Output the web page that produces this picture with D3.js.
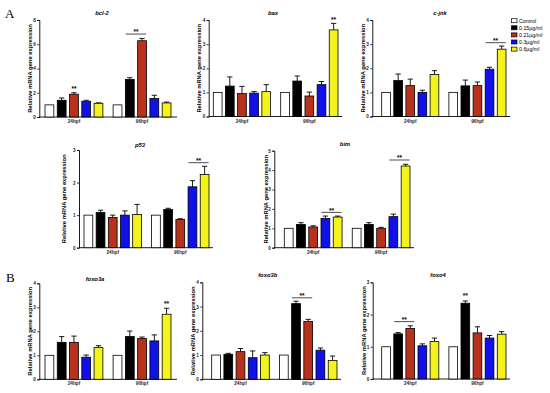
<!DOCTYPE html>
<html>
<head>
<meta charset="utf-8">
<script src="https://cdn.jsdelivr.net/npm/d3@7"></script>
<style>
  body { margin: 0; background: #fff; }
  svg { display: block; font-family: Arial, "Liberation Sans", sans-serif; }
</style>
</head>
<body>
<div id="chart"></div>
<script>
// ------------------------------- DATA ------------------------------------
var groups = ["24hpf", "96hpf"];
var doses = ["Control", "0.15µg/ml", "0.21µg/ml", "0.3µg/ml", "0.6µg/ml"];

// mean values: 5 doses at 24hpf, then 5 doses at 96hpf
var bcl2Mean   = [1.0, 1.38, 1.88, 1.30, 1.13,  1.0, 3.09, 6.29, 1.52, 1.16];
var bcl2Err    = [0,   0.19, 0.12, 0.08, 0.04,  0,   0.15, 0.19, 0.27, 0.07];
var baxMean    = [1.0, 1.26, 0.95, 0.97, 1.03,  1.0, 1.47, 0.85, 1.32, 3.59];
var baxErr     = [0,   0.38, 0.30, 0.07, 0.29,  0,   0.21, 0.16, 0.13, 0.27];
var cjnkMean   = [1.0, 1.49, 1.28, 1.00, 1.74,  1.0, 1.27, 1.28, 1.96, 2.79];
var cjnkErr    = [0,   0.27, 0.27, 0.09, 0.16,  0,   0.24, 0.15, 0.08, 0.13];
var p53Mean    = [1.0, 1.08, 0.93, 1.00, 1.02,  1.0, 1.17, 0.87, 1.87, 2.25];
var p53Err     = [0,   0.07, 0.07, 0.13, 0.31,  0,   0.04, 0.02, 0.19, 0.25];
var bimMean    = [1.0, 1.20, 1.07, 1.51, 1.58,  1.0, 1.20, 1.00, 1.60, 4.21];
var bimErr     = [0,   0.09, 0.06, 0.12, 0.05,  0,   0.09, 0.05, 0.13, 0.09];
var foxo3aMean = [1.0, 1.54, 1.54, 0.92, 1.32,  1.0, 1.78, 1.70, 1.60, 2.71];
var foxo3aErr  = [0,   0.24, 0.26, 0.09, 0.08,  0,   0.23, 0.06, 0.25, 0.25];
var foxo3bMean = [1.0, 1.03, 1.14, 0.89, 1.00,  1.0, 3.12, 2.38, 1.20, 0.78];
var foxo3bErr  = [0,   0.04, 0.13, 0.28, 0.10,  0,   0.10, 0.09, 0.09, 0.18];
var foxo4Mean  = [1.0, 1.40, 1.57, 1.03, 1.16,  1.0, 2.35, 1.43, 1.27, 1.39];
var foxo4Err   = [0,   0.04, 0.08, 0.06, 0.11,  0,   0.07, 0.19, 0.08, 0.08];

// significance: [group, fromDose, toDose, level]  (single bar when from == to)
var bcl2Sig   = [[0, 2, 2, 2.2], [1, 1, 2, 6.84]];
var baxSig    = [[1, 4, 4, 3.96]];
var cjnkSig   = [[1, 3, 4, 3.06]];
var p53Sig    = [[1, 3, 4, 2.61]];
var bimSig    = [[0, 3, 4, 1.82], [1, 3, 4, 4.52]];
var foxo3aSig = [[1, 4, 4, 3.08]];
var foxo3bSig = [[1, 1, 2, 3.36]];
var foxo4Sig  = [[0, 1, 2, 1.78], [1, 1, 1, 2.54]];

// ------------------------------- STYLE ------------------------------------
var colors = ["#ffffff", "#000000", "#b8311a", "#1010e8", "#f4f41c"];

var svg = d3.select("#chart").append("svg").attr("width", 550).attr("height", 393);

// panel layout (axis x, top, bottom, x-axis end, first/last bar edge, title pos, y-label x)
var panels = [
  {name: "bcl-2",  mean: bcl2Mean,   err: bcl2Err,   sig: bcl2Sig,   yMax: 8, yStep: 2,
   ax: 39.3,  top: 20,    bot: 117,   end: 177, x0: 45,    x1: 171, tx: 102,   ty: 15,    lx: 31.5},
  {name: "bax",    mean: baxMean,    err: baxErr,    sig: baxSig,    yMax: 4, yStep: 1,
   ax: 208.7, top: 20,    bot: 116.5, end: 342, x0: 213.3, x1: 338, tx: 273,   ty: 15,    lx: 201},
  {name: "c-jnk",  mean: cjnkMean,   err: cjnkErr,   sig: cjnkSig,   yMax: 4, yStep: 1,
   ax: 372.3, top: 20,    bot: 116.5, end: 510, x0: 381.7, x1: 506, tx: 440,   ty: 15,    lx: 365},
  {name: "p53",    mean: p53Mean,    err: p53Err,    sig: p53Sig,    yMax: 3, yStep: 1,
   ax: 79,    top: 150,   bot: 247.7, end: 213, x0: 84,    x1: 209, tx: 140,   ty: 147,   lx: 66},
  {name: "bim",    mean: bimMean,    err: bimErr,    sig: bimSig,    yMax: 5, yStep: 1,
   ax: 274.3, top: 150.7, bot: 247.7, end: 414, x0: 284.3, x1: 410, tx: 345,   ty: 145.5, lx: 268},
  {name: "foxo3a", mean: foxo3aMean, err: foxo3aErr, sig: foxo3aSig, yMax: 4, yStep: 1,
   ax: 39.3,  top: 283.3, bot: 379.3, end: 177, x0: 45,    x1: 171, tx: 95,    ty: 280.5, lx: 31.5},
  {name: "foxo3b", mean: foxo3bMean, err: foxo3bErr, sig: foxo3bSig, yMax: 4, yStep: 1,
   ax: 202.3, top: 282.3, bot: 379.3, end: 341, x0: 211.7, x1: 337, tx: 267.7, ty: 277,   lx: 195},
  {name: "foxo4",  mean: foxo4Mean,  err: foxo4Err,  sig: foxo4Sig,  yMax: 3, yStep: 1,
   ax: 372.7, top: 282.3, bot: 379,   end: 510, x0: 381.7, x1: 506, tx: 438,   ty: 276.5, lx: 366}
];

// panel letters
svg.append("text").attr("x", 5).attr("y", 18).text("A")
  .style("font-family", "'Liberation Serif', 'DejaVu Serif', serif").style("font-size", "13px");
svg.append("text").attr("x", 6).attr("y", 281.5).text("B")
  .style("font-family", "'Liberation Serif', 'DejaVu Serif', serif").style("font-size", "13px");

panels.forEach(drawPanel);
drawLegend(511.5, 20.7);

function drawPanel(p) {
  var g = svg.append("g").attr("class", p.name);

  var y = d3.scaleLinear().domain([0, p.yMax]).range([p.bot, p.top]);
  var xg = d3.scaleBand().domain(groups).range([p.x0, p.x1]).paddingInner(0.15);
  var xd = d3.scaleBand().domain(doses).range([0, xg.bandwidth()]).paddingInner(0.28);

  var rows = [];
  groups.forEach(function(gr, gi) {
    doses.forEach(function(ds, di) {
      rows.push({group: gr, dose: ds, di: di, v: p.mean[gi * 5 + di], e: p.err[gi * 5 + di]});
    });
  });

  // -------------------- y axis --------------------------
  var ticks = d3.range(0, p.yMax + 0.001, p.yStep);
  var yAxis = g.append("g").attr("transform", "translate(" + p.ax + ",0)")
    .call(d3.axisLeft(y).tickValues(ticks).tickSize(2).tickPadding(1.5).tickFormat(d3.format("d")));
  yAxis.select(".domain").attr("stroke-width", 0.9);
  yAxis.selectAll(".tick line").attr("stroke-width", 0.8);
  yAxis.selectAll(".tick text").style("font-size", "4.6px").style("font-weight", "bold").attr("fill", "#222");

  // -------------------- x axis --------------------------
  g.append("line").attr("x1", p.ax).attr("x2", p.end).attr("y1", p.bot).attr("y2", p.bot)
    .attr("stroke", "#000").attr("stroke-width", 0.9);

  g.selectAll(".glabel").data(groups).enter().append("text")
    .attr("x", function(d) { return xg(d) + xg.bandwidth() / 2; })
    .attr("y", p.bot + 6)
    .attr("text-anchor", "middle")
    .style("font-size", "4.7px").style("font-weight", "bold").attr("fill", "#3a1a2a")
    .text(function(d) { return d; });

  // -------------------- bars --------------------------
  var bw = xd.bandwidth();
  // error bars (drawn first, bar covers lower part)
  var eb = g.selectAll(".err").data(rows.filter(function(d) { return d.e > 0; })).enter().append("g");
  eb.append("line")
    .attr("x1", function(d) { return xg(d.group) + xd(d.dose) + bw / 2; })
    .attr("x2", function(d) { return xg(d.group) + xd(d.dose) + bw / 2; })
    .attr("y1", function(d) { return y(d.v); })
    .attr("y2", function(d) { return y(d.v + d.e); })
    .attr("stroke", "#000").attr("stroke-width", 0.9);
  eb.append("line")
    .attr("x1", function(d) { return xg(d.group) + xd(d.dose) + bw * 0.2; })
    .attr("x2", function(d) { return xg(d.group) + xd(d.dose) + bw * 0.8; })
    .attr("y1", function(d) { return y(d.v + d.e); })
    .attr("y2", function(d) { return y(d.v + d.e); })
    .attr("stroke", "#000").attr("stroke-width", 0.9);

  g.selectAll(".bar").data(rows).enter().append("rect")
    .attr("x", function(d) { return xg(d.group) + xd(d.dose); })
    .attr("y", function(d) { return y(d.v); })
    .attr("width", bw)
    .attr("height", function(d) { return y(0) - y(d.v); })
    .attr("fill", function(d) { return colors[d.di]; })
    .attr("stroke", "#000").attr("stroke-width", 0.8);

  // -------------------- significance --------------------------
  p.sig.forEach(function(s) {
    var gr = groups[s[0]];
    var xa = xg(gr) + xd(doses[s[1]]) + bw / 2;
    var xb = xg(gr) + xd(doses[s[2]]) + bw / 2;
    var yy = y(s[3]);
    if (s[1] !== s[2]) {
      g.append("line").attr("x1", xa - 4).attr("x2", xb + 4).attr("y1", yy).attr("y2", yy)
        .attr("stroke", "#000").attr("stroke-width", 0.7);
      yy -= 0.8;
    }
    g.append("text").attr("x", (xa + xb) / 2).attr("y", yy + 1)
      .attr("text-anchor", "middle")
      .style("font-size", "6.5px").style("font-weight", "bold")
      .text("**");
  });

  // -------------------- titles --------------------------
  g.append("text").attr("x", p.tx).attr("y", p.ty).attr("text-anchor", "middle")
    .style("font-size", "5.8px").style("font-weight", "bold").style("font-style", "italic")
    .text(p.name);

  g.append("text")
    .attr("transform", "translate(" + p.lx + "," + (p.top + p.bot) / 2 + ") rotate(-90)")
    .attr("text-anchor", "middle")
    .style("font-size", "5.8px").style("font-weight", "bold")
    .text("Relative mRNA gene expression");
}

function drawLegend(lx, ly) {
  var lg = svg.append("g").attr("class", "legend");
  var item = lg.selectAll("g").data(doses).enter().append("g")
    .attr("transform", function(d, i) { return "translate(" + lx + "," + (ly + i * 7.1) + ")"; });
  item.append("rect").attr("x", 0).attr("y", -2).attr("width", 5.5).attr("height", 4)
    .attr("fill", function(d, i) { return colors[i]; })
    .attr("stroke", "#000").attr("stroke-width", 0.7);
  item.append("text").attr("x", 7.5).attr("y", 1.9)
    .style("font-size", "5.3px")
    .text(function(d) { return d; });
}
</script>
</body>
</html>
